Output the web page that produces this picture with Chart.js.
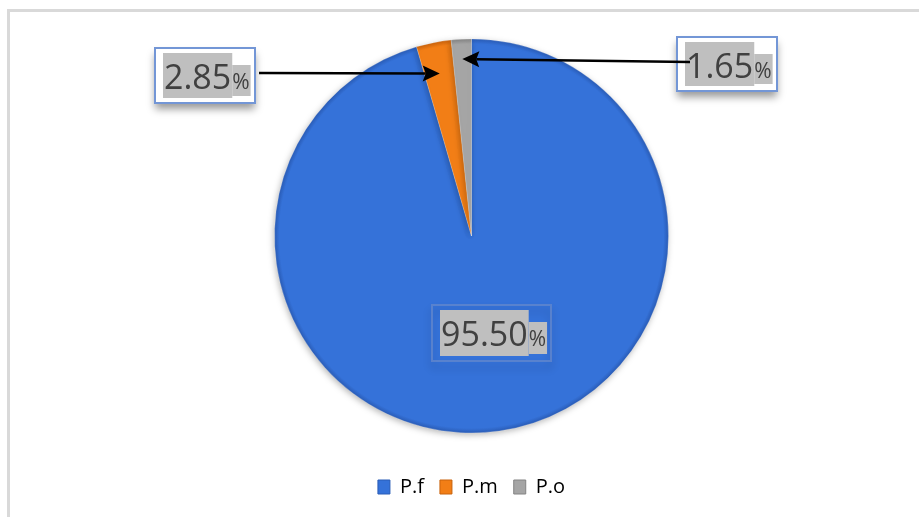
<!DOCTYPE html>
<html>
<head>
<meta charset="utf-8">
<script src="https://cdn.jsdelivr.net/npm/chart.js@4/dist/chart.umd.min.js"></script>
<style>
  html, body { margin: 0; padding: 0; background: #ffffff; overflow: hidden; }
  #frame { position: absolute; left: 7px; top: 9px; width: 1000px; height: 600px;
           border-top: 3px solid #d9d9d9; border-left: 3px solid #d9d9d9; }
  #wrap { position: absolute; left: 0; top: 0; width: 919px; height: 517px; }
</style>
</head>
<body>
<div id="frame"></div>
<div id="wrap"><canvas id="c" width="919" height="517"></canvas></div>
<script>
// ---- data ----
const categories = ['P.f', 'P.m', 'P.o'];
const values = [95.50, 2.85, 1.65];
const valueLabels = ['95.50', '2.85', '1.65'];
const colors = ['#3572d9', '#f27e16', '#a5a5a5'];
const edgeColors = ['#2a5cb6', '#c8620c', '#838383'];

// ---- layout for callout boxes (not data) ----
const boxes = [
  { x: 432, y: 305, w: 119, h: 56, border: 'rgba(120,160,230,0.6)', fill: null, arrow: false },
  { x: 155, y: 48,  w: 100, h: 55, border: '#7396d6', fill: '#ffffff', arrow: true, from: [259, 73], frac: 0.84 },
  { x: 677, y: 37,  w: 100, h: 54, border: '#7396d6', fill: '#ffffff', arrow: true, from: [690, 62], frac: 0.9 }
];
const R = 197;

function sliceFill(ctx) {
  const chart = ctx.chart;
  const a = chart.chartArea;
  const i = ctx.dataIndex;
  if (!a || i === undefined) return colors[i || 0];
  const cx = (a.left + a.right) / 2, cy = (a.top + a.bottom) / 2;
  const g = chart.ctx.createRadialGradient(cx, cy, 0, cx, cy, R);
  g.addColorStop(0, colors[i]);
  g.addColorStop(0.975, colors[i]);
  g.addColorStop(1, edgeColors[i]);
  return g;
}

const calloutPlugin = {
  id: 'callouts',
  beforeDatasetsDraw(chart) {
    const c = chart.ctx;
    c.save();
    c.shadowColor = 'rgba(0,0,0,0.28)';
    c.shadowBlur = 6;
    c.shadowOffsetX = -1;
    c.shadowOffsetY = 2;
  },
  afterDatasetsDraw(chart) {
    const c = chart.ctx;
    c.restore();
    const meta = chart.getDatasetMeta(0);
    boxes.forEach((b, i) => {
      c.save();
      c.shadowColor = 'rgba(0,0,0,0.4)';
      c.shadowBlur = 8;
      c.shadowOffsetY = 6;
      c.fillStyle = b.fill || 'rgba(40,80,160,0.25)';
      if (b.fill) c.fillRect(b.x, b.y, b.w, b.h);
      else { c.lineWidth = 2; c.strokeStyle = 'rgba(30,60,130,0.5)'; c.strokeRect(b.x, b.y, b.w, b.h); }
      c.restore();
      c.save();
      c.lineWidth = 2;
      c.strokeStyle = b.border;
      c.strokeRect(b.x, b.y, b.w, b.h);
      c.font = '34px "Open Sans"';
      const num = valueLabels[i];
      const tw = c.measureText(num).width;
      const nx = b.x + 8;
      c.fillStyle = '#bfbfbf';
      c.fillRect(nx, b.y + 5, tw + 2, b.h - 10);
      c.font = '21px "Open Sans"';
      const pw = c.measureText('%').width;
      c.fillRect(nx + tw + 2, b.y + 17, pw + 1, b.h - 24);
      c.fillStyle = '#404040';
      c.textBaseline = 'alphabetic';
      c.font = '34px "Open Sans"';
      c.fillText(num, nx + 1, b.y + 41);
      c.font = '21px "Open Sans"';
      c.fillText('%', nx + tw + 2, b.y + 41);
      c.restore();
      if (b.arrow) {
        const arc = meta.data[i];
        const p = arc.getProps(['x', 'y', 'startAngle', 'endAngle', 'outerRadius'], true);
        const mid = (p.startAngle + p.endAngle) / 2;
        const tx = p.x + Math.cos(mid) * p.outerRadius * b.frac;
        const ty = p.y + Math.sin(mid) * p.outerRadius * b.frac;
        const [sx, sy] = b.from;
        const ang = Math.atan2(ty - sy, tx - sx);
        const L = 17, W = 8;
        const bx = tx - Math.cos(ang) * L, by = ty - Math.sin(ang) * L;
        c.save();
        c.strokeStyle = '#000'; c.fillStyle = '#000'; c.lineWidth = 2.5;
        c.beginPath(); c.moveTo(sx, sy); c.lineTo(bx + Math.cos(ang) * 3, by + Math.sin(ang) * 3); c.stroke();
        c.beginPath();
        c.moveTo(tx, ty);
        c.lineTo(bx + Math.sin(ang) * W, by - Math.cos(ang) * W);
        c.lineTo(bx + Math.cos(ang) * 3, by + Math.sin(ang) * 3);
        c.lineTo(bx - Math.sin(ang) * W, by + Math.cos(ang) * W);
        c.closePath(); c.fill();
        c.restore();
      }
    });
  }
};

new Chart(document.getElementById('c'), {
  type: 'pie',
  data: {
    labels: categories,
    datasets: [{
      data: values,
      backgroundColor: sliceFill,
      borderWidth: 0.6,
      borderColor: 'rgba(255,255,255,0.35)',
      radius: R
    }]
  },
  options: {
    responsive: false,
    animation: false,
    rotation: 0,
    layout: { padding: { left: 24, right: 0, top: 11, bottom: 10 } },
    plugins: {
      tooltip: { enabled: false },
      legend: {
        position: 'bottom',
        labels: {
          color: '#595959',
          font: { family: '"Open Sans"', size: 20 },
          boxWidth: 12,
          boxHeight: 14,
          padding: 16,
          generateLabels(chart) {
            return categories.map((name, i) => ({
              text: name, fillStyle: colors[i], strokeStyle: edgeColors[i],
              lineWidth: 1, hidden: false, index: i
            }));
          }
        }
      }
    }
  },
  plugins: [calloutPlugin]
});
</script>
</body>
</html>
